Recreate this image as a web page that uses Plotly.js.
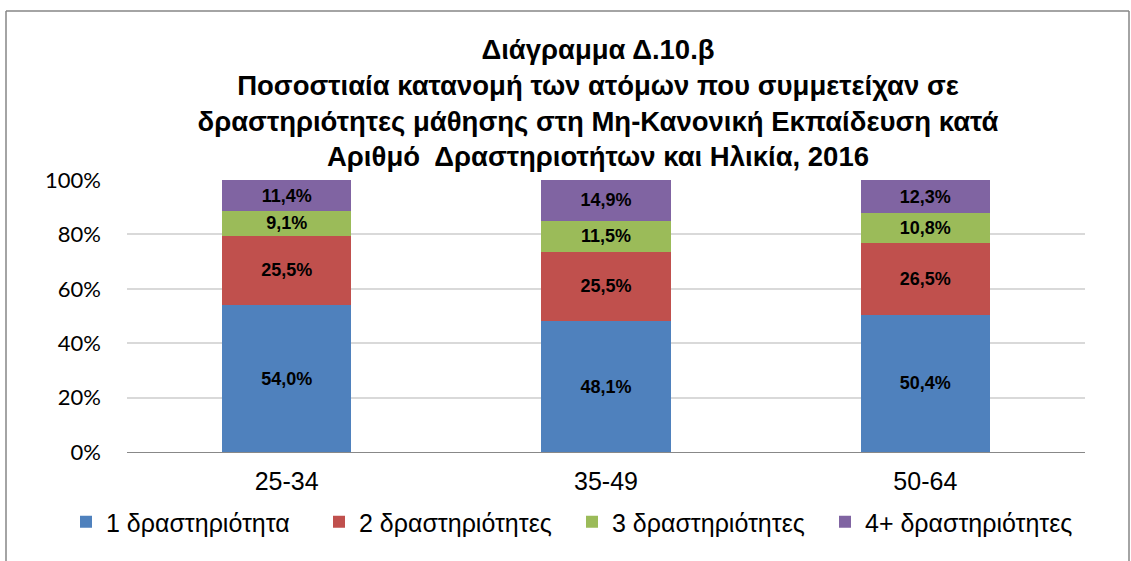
<!DOCTYPE html>
<html><head><meta charset="utf-8">
<script src="https://cdn.plot.ly/plotly-3.0.1.min.js"></script>
<style>body{margin:0;background:#fff}#c{width:1131px;height:561px}</style>
</head><body><div id="c"></div>
<script>
const categories = ['25-34', '35-49', '50-64'];
const seriesNames = ['1 δραστηριότητα', '2 δραστηριότητες', '3 δραστηριότητες', '4+ δραστηριότητες'];
const act1 = [54.0, 48.1, 50.4];
const act2 = [25.5, 25.5, 26.5];
const act3 = [9.1, 11.5, 10.8];
const act4 = [11.4, 14.9, 12.3];
const yTicks = [0, 20, 40, 60, 80, 100];
const yTickLabels = ['0%', '20%', '40%', '60%', '80%', '100%'];
const colors = ['#4F81BD', '#C0504D', '#9BBB59', '#8064A2'];

const L = 127, R = 46, T = 180, B = 109, W = 1131, H = 561;
const pw = W - L - R, ph = H - T - B;
const px = v => (v - L) / pw, py = v => 1 - (v - T) / ph;
const frame = {color: '#868686', width: 1.5};

const seriesValues = [act1, act2, act3, act4];
const traces = seriesValues.map((vals, i) => ({
  type: 'bar', x: categories, y: vals, name: seriesNames[i],
  marker: {color: colors[i]},
  texttemplate: '%{y:.1f}%', textposition: 'inside', insidetextanchor: 'middle',
  textfont: {family: 'Liberation Sans, Arial, sans-serif', size: 18, color: '#000', weight: 'bold'},
  constraintext: 'none', hoverinfo: 'skip'
}));

const layout = {
  width: W, height: H, barmode: 'stack', bargap: 0.595, separators: ',.',
  margin: {l: L, r: R, t: T, b: B, autoexpand: false},
  paper_bgcolor: '#fff', plot_bgcolor: '#fff',
  font: {family: 'Liberation Sans, Arial, sans-serif', color: '#000'},
  title: {
    text: '<b>Διάγραμμα Δ.10.β<br>Ποσοστιαία κατανομή των ατόμων που συμμετείχαν σε<br>δραστηριότητες μάθησης στη Μη-Κανονική Εκπαίδευση κατά<br>Αριθμό  Δραστηριοτήτων και Ηλικία, 2016</b>',
    font: {family: 'Liberation Sans, Arial, sans-serif', size: 27.5, color: '#000'},
    x: 598 / W, xanchor: 'center', y: 1 - 59 / H, yanchor: 'top'
  },
  xaxis: {
    showgrid: false, showline: true, linecolor: '#888', linewidth: 1,
    tickfont: {size: 25}, ticks: '', ticklabelstandoff: 7
  },
  yaxis: {
    range: [0, 100], tickmode: 'array', tickvals: yTicks, ticktext: yTickLabels, showgrid: true,
    gridcolor: '#D9D9D9', gridwidth: 2, zeroline: false, showline: false,
    tickfont: {family: 'Lato, sans-serif', size: 22}, ticks: '', ticklabelstandoff: 25
  },
  legend: {
    orientation: 'h', x: px(66), xanchor: 'left', y: py(522), yanchor: 'middle',
    font: {size: 25}, traceorder: 'normal', itemwidth: 30,
    entrywidth: 208, entrywidthmode: 'pixels', bgcolor: 'rgba(0,0,0,0)'
  },
  shapes: [
    {type: 'line', xref: 'paper', yref: 'paper', x0: px(6), x1: px(1129), y0: py(11), y1: py(11), line: frame},
    {type: 'line', xref: 'paper', yref: 'paper', x0: px(6), x1: px(6), y0: py(11), y1: py(575), line: frame},
    {type: 'line', xref: 'paper', yref: 'paper', x0: px(1129), x1: px(1129), y0: py(11), y1: py(575), line: frame}
  ]
};
Plotly.newPlot('c', traces, layout, {staticPlot: true});
</script></body></html>
